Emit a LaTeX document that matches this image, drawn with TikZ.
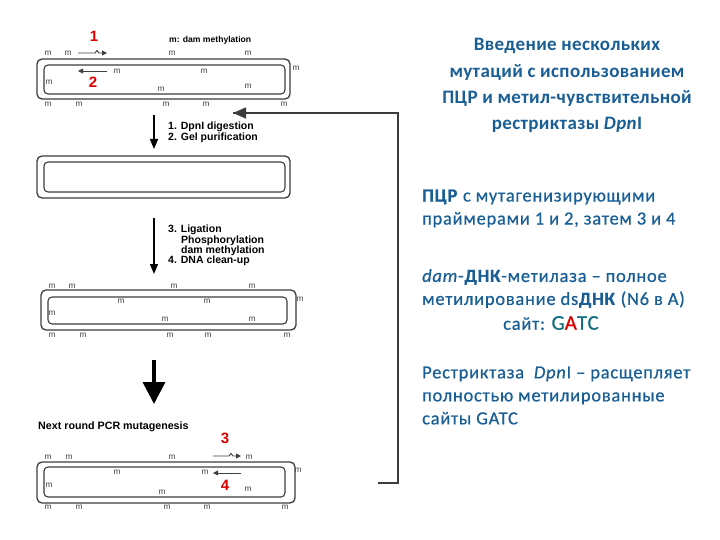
\documentclass[tikz,border=0pt]{standalone}
\usepackage{fontspec}
\setmainfont{Liberation Sans}
\newfontfamily\rufont[LetterSpace=4,FakeBold=0.6]{Carlito}
\newfontfamily\rutitlefont[LetterSpace=2]{Carlito}
\usetikzlibrary{arrows.meta}
\definecolor{tblue}{RGB}{25,95,150}
\definecolor{tteal}{RGB}{20,110,130}
\definecolor{dnagray}{RGB}{60,60,60}
\tikzset{
  outerbox/.style={draw=dnagray,line width=1.3pt,rounded corners=5pt,inner sep=0pt},
  innerbox/.style={draw=dnagray,line width=1.1pt,rounded corners=4pt,inner sep=0pt},
  mlab/.style={font=\fontsize{8.3}{8.3}\selectfont,inner sep=0pt,text=black!75},
  rednum/.style={font=\fontsize{15}{15}\selectfont\bfseries,text=red!85!black,inner sep=0pt},
  steptext/.style={font=\fontsize{10.5}{10.3}\selectfont\bfseries,align=left,inner sep=0pt,anchor=north west},
  thinarrow/.style={line width=1.4pt,-{Triangle[length=10pt,width=8pt]}},
  bigarrow/.style={line width=3.5pt,-{Triangle[length=22pt,width=22pt]}},
  primer/.style={line width=0.9pt,black!75,-{Triangle[length=5pt,width=5pt]}},
  rutext/.style={text=tblue,inner sep=0pt,font=\rufont\fontsize{18.5}{23}\selectfont,align=left},
  fbline/.style={line width=1.3pt,dnagray}
}
\begin{document}
\begin{tikzpicture}[x=1pt,y=-1pt]
\useasboundingbox (0,0) rectangle (720,540);
\fill[white] (0,0) rectangle (720,540);

% ---------- box 1 ----------
\node[outerbox,minimum width=253pt,minimum height=40pt] (b1o) at (163.5,79) {};
\node[innerbox,minimum width=241pt,minimum height=29pt] (b1i) at (164.5,79.5) {};
\foreach \p [count=\i] in {(48,53),(68,53),(172,53),(248,53),(296,68),(117,71),(204,71),(49,82),(161,89),(248,86),(48,104),(79,104),(166,104),(206,104),(284,104)}
  \node[mlab] (ma\i) at \p {m};
\node[font=\fontsize{8.6}{8.6}\selectfont\bfseries,inner sep=0pt,anchor=west] (legend) at (169,40) {m: dam methylation};
% primers 1 and 2
\coordinate (p1s) at (78,53); \coordinate (p1e) at (107,53);
\draw[primer] (p1s) -- (95,53) -- (97,50.5) -- (99,53) -- (p1e);
\coordinate (p2s) at (107,71); \coordinate (p2e) at (78,71);
\draw[primer] (p2s) -- (p2e);
\node[rednum] (n1) at (94,36) {1};
\node[rednum] (n2) at (93,82) {2};

% arrow 1
\coordinate (a1s) at (154,115); \coordinate (a1e) at (154,149);
\draw[thinarrow] (a1s) -- (a1e);
\node[steptext] (s1) at (168,122) {1. DpnI digestion\\2. Gel purification};

% ---------- box 2 ----------
\node[outerbox,minimum width=253pt,minimum height=42pt] (b2o) at (163.5,177) {};
\node[innerbox,minimum width=241pt,minimum height=30pt] (b2i) at (164.5,177) {};

% arrow 2
\coordinate (a2s) at (154,218); \coordinate (a2e) at (154,274);
\draw[thinarrow] (a2s) -- (a2e);
\node[steptext] (s2) at (168,225) {3. Ligation\\\hspace*{13pt}Phosphorylation\\\hspace*{13pt}dam methylation\\4. DNA clean-up};

% ---------- box 3 ----------
\node[outerbox,minimum width=255pt,minimum height=40pt] (b3o) at (168.5,310) {};
\node[innerbox,minimum width=239pt,minimum height=27pt] (b3i) at (167.5,310.5) {};
\foreach \p [count=\i] in {(52,286),(72,286),(174,286),(252,286),(300,299),(121,301),(207,301),(52,313),(165,319),(252,319),(52,335),(83,335),(170,335),(208,335),(287,335)}
  \node[mlab] (mb\i) at \p {m};

% big arrow 3
\coordinate (a3s) at (154,360); \coordinate (a3e) at (154,404);
\draw[bigarrow] (a3s) -- (a3e);

\node[font=\fontsize{10.7}{10.7}\selectfont\bfseries,inner sep=0pt,anchor=west] (next) at (38,427) {Next round PCR mutagenesis};

% ---------- box 4 ----------
\node[outerbox,minimum width=258pt,minimum height=41pt] (b4o) at (166,482.5) {};
\node[innerbox,minimum width=241pt,minimum height=30pt] (b4i) at (164.5,482) {};
\foreach \p [count=\i] in {(48,457),(69,457),(172,457),(249,457),(298,470),(117,472),(205,472),(49,485),(162,492),(248,489),(48,507),(79,507),(167,507),(207,507),(285,507)}
  \node[mlab] (mc\i) at \p {m};
\coordinate (p3s) at (213,456); \coordinate (p3e) at (241,456);
\draw[primer] (p3s) -- (229,456) -- (231,453.5) -- (233,456) -- (p3e);
\coordinate (p4s) at (241,473); \coordinate (p4e) at (213,473);
\draw[primer] (p4s) -- (p4e);
\node[rednum] (n3) at (225,438) {3};
\node[rednum] (n4) at (225,485) {4};

% ---------- feedback loop ----------
\coordinate (fb0) at (378,483);
\coordinate (fb1) at (398,483);
\coordinate (fb2) at (398,113);
\coordinate (fbt) at (233,113);
\draw[fbline] (fb0) -- (fb1) -- (fb2) -- (fbt);
\draw[fbline,-{Triangle[length=13pt,width=11pt]}] (260,113) -- (fbt);

% ---------- right text ----------
\node[rutext,align=center,font=\rutitlefont\bfseries\fontsize{19}{26.3}\selectfont] (title) at (567,85.5)
  {Введение нескольких\\мутаций с использованием\\ПЦР и метил-чувствительной\\рестриктазы \textit{Dpn}I};

\node[rutext,anchor=west] (t2) at (422,208.5)
  {\textbf{ПЦР} с мутагенизирующими\\праймерами 1 и 2, затем 3 и 4};

\node[rutext,anchor=west] (t3) at (422,288.5)
  {\textit{dam}-\textbf{ДНК}-метилаза – полное\\метилирование ds\textbf{ДНК} (N6 в А)};
\node[rutext,anchor=west] (t3b) at (503,323)
  {сайт: {\fontsize{21}{21}\selectfont\textcolor{tteal}{G}\textcolor{red!85!black}{A}\textcolor{tteal}{TC}}};

\node[rutext,anchor=west] (t4) at (422,395.5)
  {Рестриктаза \ \textit{Dpn}I – расщепляет\\полностью метилированные\\сайты GATC};
\end{tikzpicture}
\end{document}
